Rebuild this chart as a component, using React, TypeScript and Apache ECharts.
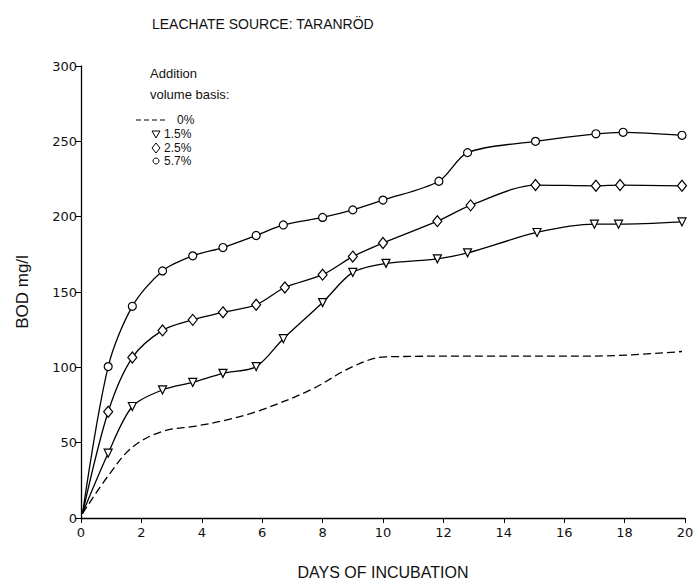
import React, { useEffect, useRef } from "react";
import * as echarts from "echarts";

const titleText = "LEACHATE SOURCE: TARANRÖD";
const xAxisTitle = "DAYS OF INCUBATION";
const yAxisTitle = "BOD mg/l";
const legendHeader = ["Addition", "volume basis:"];
const seriesNames = ["0%", "1.5%", "2.5%", "5.7%"];

// [day, BOD mg/l]
const series0: number[][] = [
  [0.05, 3], [0.9, 28], [1.7, 47], [2.7, 57.5], [3.8, 61], [4.8, 65], [5.8, 70.5],
  [7.6, 85], [9, 100.5], [10.1, 107], [13.6, 107.5], [17, 107.5], [19.9, 110.5],
];
const series15: number[][] = [
  [0.05, 3], [0.9, 43], [1.7, 74], [2.7, 85], [3.7, 90], [4.7, 96], [5.8, 100.5],
  [6.7, 119], [8, 143], [9, 163], [10.1, 169], [11.8, 172], [12.8, 176],
  [15.1, 189.5], [17, 195], [17.8, 195], [19.9, 196.5],
];
const series25: number[][] = [
  [0.05, 3], [0.9, 70.5], [1.7, 106.5], [2.7, 124.5], [3.7, 131.5], [4.7, 136.5],
  [5.8, 141.5], [6.75, 153], [8, 161.5], [9, 173.5], [10, 182.5], [11.8, 197],
  [12.9, 207.5], [15.05, 221], [17.05, 220.5], [17.85, 221], [19.9, 220.5],
];
const series57: number[][] = [
  [0.05, 3], [0.9, 100.5], [1.7, 140.5], [2.7, 164], [3.7, 174], [4.7, 179.5],
  [5.8, 187.5], [6.7, 194.5], [8, 199.5], [9, 204.5], [10, 211], [11.85, 223.5],
  [12.8, 242.5], [15.05, 250], [17.05, 255], [17.95, 256], [19.9, 254],
];

const FONT = "'DejaVu Sans', 'Liberation Sans', sans-serif";
const TFONT = "'Liberation Sans', Arial, sans-serif";

function withMarkers(data: number[][]) {
  return data.map((d, i) => (i === 0 ? { value: d, symbol: "none" } : { value: d }));
}

export default function App() {
  const ref = useRef<HTMLDivElement>(null);
  useEffect(() => {
    if (!ref.current) return;
    const chart = echarts.init(ref.current, undefined, { renderer: "svg" });
    const lineStyle = { color: "#000", width: 1.3 };
    const itemStyle = { color: "#fff", borderColor: "#000", borderWidth: 1.2 };
    const legendFont = `12px ${TFONT}`;
    chart.setOption({
      animation: false,
      backgroundColor: "#fff",
      title: {
        text: titleText,
        left: 147,
        top: 12,
        textStyle: { fontFamily: TFONT, fontSize: 14, fontWeight: "normal", color: "#111" },
      },
      grid: { left: 81, right: 12, top: 66, bottom: 66 },
      xAxis: {
        type: "value",
        min: 0,
        max: 20,
        interval: 2,
        name: xAxisTitle,
        nameLocation: "middle",
        nameGap: 46,
        nameTextStyle: { fontFamily: TFONT, fontSize: 16, color: "#111" },
        axisLine: { lineStyle: { color: "#000", width: 1.3 } },
        axisTick: { show: true, length: 5, inside: false, lineStyle: { color: "#000" } },
        axisLabel: { fontFamily: FONT, fontSize: 13, color: "#111", margin: 8 },
        splitLine: { show: false },
      },
      yAxis: {
        type: "value",
        min: 0,
        max: 300,
        interval: 50,
        name: yAxisTitle,
        nameLocation: "middle",
        nameGap: 50,
        nameRotate: 90,
        nameTextStyle: { fontFamily: TFONT, fontSize: 17, color: "#111" },
        axisLine: { show: true, lineStyle: { color: "#000", width: 1.3 } },
        axisTick: { show: true, length: 6, inside: false, lineStyle: { color: "#000" } },
        axisLabel: { fontFamily: FONT, fontSize: 13, color: "#111", margin: 4 },
        splitLine: { show: false },
      },
      series: [
        {
          name: seriesNames[0],
          type: "line",
          data: series0,
          smooth: 0.35,
          showSymbol: false,
          symbol: "none",
          lineStyle: { ...lineStyle, type: [8, 4] },
        },
        {
          name: seriesNames[1],
          type: "line",
          data: withMarkers(series15),
          smooth: 0.3,
          symbol: "triangle",
          symbolRotate: 180,
          symbolSize: 8,
          lineStyle,
          itemStyle,
        },
        {
          name: seriesNames[2],
          type: "line",
          data: withMarkers(series25),
          smooth: 0.3,
          symbol: "diamond",
          symbolSize: [9, 11],
          lineStyle,
          itemStyle,
        },
        {
          name: seriesNames[3],
          type: "line",
          data: withMarkers(series57),
          smooth: 0.3,
          symbol: "circle",
          symbolSize: 8,
          lineStyle,
          itemStyle,
        },
      ],
      graphic: [
        { type: "text", left: 150, top: 67, style: { text: legendHeader[0], font: `13px ${TFONT}`, fill: "#111" } },
        { type: "text", left: 150, top: 88, style: { text: legendHeader[1], font: `13px ${TFONT}`, fill: "#111" } },
        { type: "line", shape: { x1: 136, y1: 120, x2: 168, y2: 120 }, style: { stroke: "#000", lineWidth: 1.2, lineDash: [5, 3] } },
        { type: "text", left: 177, top: 114, style: { text: seriesNames[0], font: legendFont, fill: "#111" } },
        { type: "polygon", shape: { points: [[152, 131], [160, 131], [156, 138]] }, style: { fill: "#fff", stroke: "#000", lineWidth: 1 } },
        { type: "text", left: 164, top: 128, style: { text: seriesNames[1], font: legendFont, fill: "#111" } },
        { type: "polygon", shape: { points: [[156, 143], [160, 148], [156, 153], [152, 148]] }, style: { fill: "#fff", stroke: "#000", lineWidth: 1 } },
        { type: "text", left: 164, top: 141.5, style: { text: seriesNames[2], font: legendFont, fill: "#111" } },
        { type: "circle", shape: { cx: 156, cy: 161, r: 3 }, style: { fill: "#fff", stroke: "#000", lineWidth: 1 } },
        { type: "text", left: 164, top: 155, style: { text: seriesNames[3], font: legendFont, fill: "#111" } },
      ],
    });
    return () => chart.dispose();
  }, []);
  return <div ref={ref} style={{ position: "fixed", left: 0, top: 0, width: 697, height: 585 }} />;
}
